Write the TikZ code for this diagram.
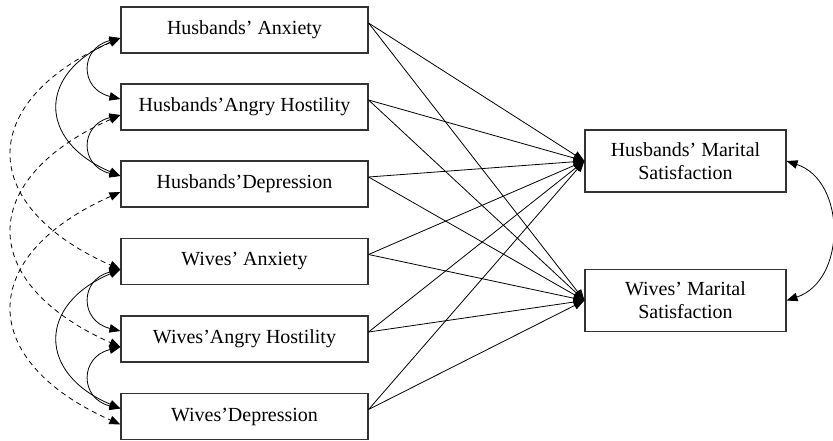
\documentclass[tikz,border=0pt]{standalone}
\usepackage{fontspec}
\setmainfont{Liberation Serif}
\usetikzlibrary{arrows.meta}
\begin{document}
\begin{tikzpicture}[x=1pt,y=-1pt,
  lbox/.style={draw=black!80,line width=1.1pt,minimum width=247pt,minimum height=46pt,inner sep=2pt,font=\fontsize{20}{23.3}\selectfont},
  rbox/.style={draw=black!80,line width=1.1pt,minimum width=201pt,minimum height=62pt,inner sep=2pt,align=center,font=\fontsize{20}{23.3}\selectfont},
  tip/.style={{Triangle[length=11pt,width=8.5pt]}},
  path/.style={line width=0.8pt,-{Triangle[length=11pt,width=8.5pt]}},
  cov/.style={line width=0.8pt,{Triangle[length=11pt,width=8.5pt]}-{Triangle[length=11pt,width=8.5pt]}},
  dcov/.style={cov,dash pattern=on 5pt off 4pt}]
\useasboundingbox (0,0) rectangle (833,441);
\node[lbox] (h1) at (244.5,30) {Husbands’ Anxiety};
\node[lbox] (h2) at (244.5,107) {Husbands’Angry Hostility};
\node[lbox] (h3) at (244.5,184) {Husbands’Depression};
\node[lbox] (w1) at (244.5,261.5) {Wives’ Anxiety};
\node[lbox] (w2) at (244.5,339) {Wives’Angry Hostility};
\node[lbox] (w3) at (244.5,416.5) {Wives’Depression};
\node[rbox] (m1) at (685.5,161) {Husbands’ Marital\\Satisfaction};
\node[rbox] (m2) at (685.5,300.5) {Wives’ Marital\\Satisfaction};
% ports
\foreach \n in {h1,h2,h3,w1,w2,w3}{
  \coordinate (\n u) at ([yshift=8pt]\n.west);
  \coordinate (\n d) at ([yshift=-8pt]\n.west);
  \coordinate (\n o) at ([yshift=7pt]\n.east);
}
% paths to outcomes
\foreach \n in {h1,h2,h3,w1,w2,w3}{
  \draw[path] (\n o) -- (m1.west);
  \draw[path] (\n o) -- (m2.west);
}
% solid covariances
\draw[cov] (h1d) .. controls +(-41,10) and +(-41,-10) .. (h2u);
\draw[cov] (h2d) .. controls +(-41,10) and +(-41,-10) .. (h3u);
\draw[cov] (h1d) .. controls +(-83,35) and +(-83,-35) .. (h3u);
\draw[cov] (w1d) .. controls +(-41,10) and +(-41,-10) .. (w2u);
\draw[cov] (w2d) .. controls +(-41,10) and +(-41,-10) .. (w3u);
\draw[cov] (w1d) .. controls +(-83,35) and +(-83,-35) .. (w3u);
% dashed covariances
\draw[dcov] (h1d) .. controls +(-144,64) and +(-144,-64) .. (w1d);
\draw[dcov] (h2d) .. controls +(-144,64) and +(-144,-64) .. (w2d);
\draw[dcov] (h3d) .. controls +(-144,64) and +(-144,-64) .. (w3d);
% outcome covariance
\draw[cov] (m1.east) .. controls +(60,20) and +(60,-20) .. (m2.east);
\end{tikzpicture}
\end{document}
